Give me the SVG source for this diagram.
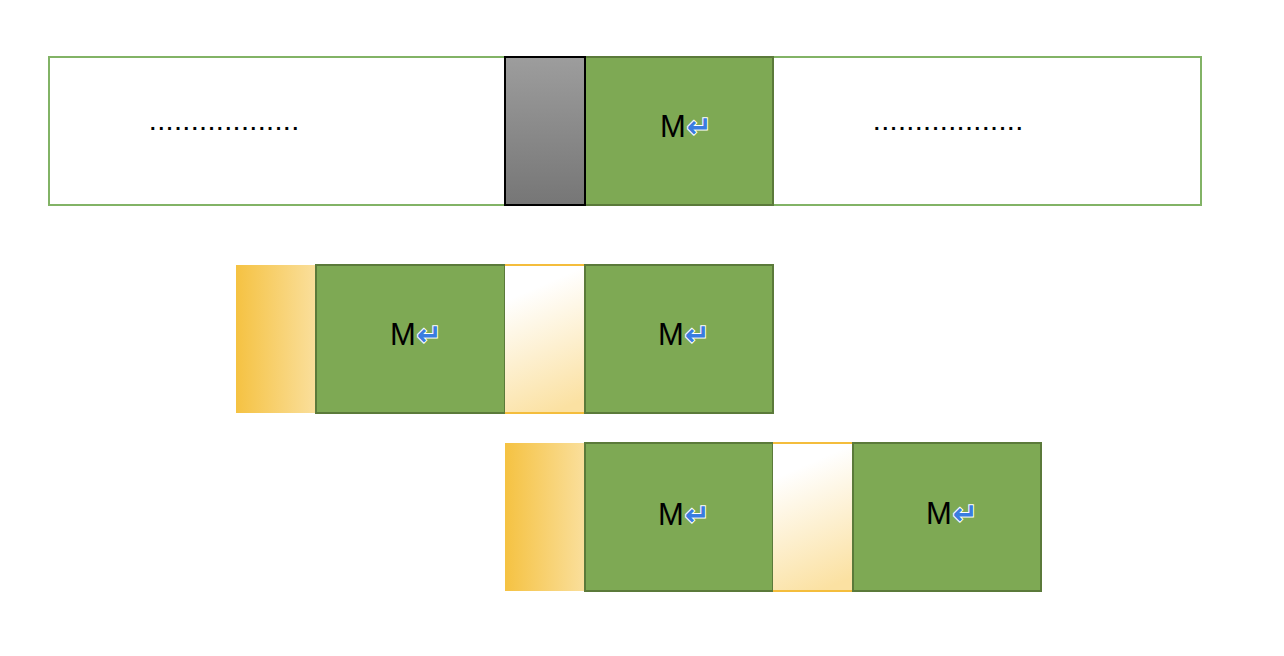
<svg xmlns="http://www.w3.org/2000/svg" width="1284" height="656" viewBox="0 0 1284 656">
<style>
.g{fill:#7ea954;stroke:#5b7a3a;stroke-width:2}
.o{stroke:#f4bd3c;stroke-width:2}
.t{font-family:"Liberation Sans",Arial,sans-serif;font-size:31px;fill:#000}
.r{font-family:"DejaVu Sans",sans-serif;font-size:30px;fill:#3a7ce0;stroke:#fff;stroke-width:2;paint-order:stroke;font-weight:bold}
.d{font-family:"Liberation Sans",Arial,sans-serif;font-size:20px;font-weight:bold;fill:#000}
</style>
<defs>
<linearGradient id="gray" x1="0" y1="0" x2="0" y2="1"><stop offset="0" stop-color="#9d9d9d"/><stop offset="1" stop-color="#767676"/></linearGradient>
<linearGradient id="or" x1="0" y1="0" x2="1" y2="0"><stop offset="0" stop-color="#f5c242"/><stop offset="1" stop-color="#fadf9c"/></linearGradient>
<linearGradient id="wo" x1="0.4" y1="0.15" x2="0.6" y2="1"><stop offset="0" stop-color="#ffffff"/><stop offset="1" stop-color="#fbe1a2"/></linearGradient>
</defs>
<g id="top">
<rect x="49" y="57" width="1152" height="148" fill="#fff" stroke="#82b366" stroke-width="2"/>
<text class="d" x="150" y="130" textLength="148" lengthAdjust="spacing">..................</text>
<text class="d" x="874" y="130" textLength="148" lengthAdjust="spacing">..................</text>
</g>
<g id="m1"><rect class="g" x="585" y="57" width="188" height="148"/><text x="660" y="137"><tspan class="t">M</tspan><tspan class="r" dx="1">↵</tspan></text></g>
<g id="gray-block"><rect x="505" y="57" width="80" height="148" fill="url(#gray)" stroke="#000" stroke-width="2"/></g>
<g id="o2"><rect x="236" y="265" width="80" height="148" fill="url(#or)" stroke="none"/></g>
<g id="m2"><rect class="g" x="316" y="265" width="189" height="148"/><text x="390" y="345"><tspan class="t">M</tspan><tspan class="r" dx="1">↵</tspan></text></g>
<g id="w2"><rect x="505" y="265" width="80" height="148" fill="url(#wo)" stroke="none"/><line class="o" x1="505" y1="265" x2="585" y2="265"/><line class="o" x1="505" y1="413" x2="585" y2="413"/></g>
<g id="m3"><rect class="g" x="585" y="265" width="188" height="148"/><text x="658" y="345"><tspan class="t">M</tspan><tspan class="r" dx="1">↵</tspan></text></g>
<g id="o3"><rect x="505" y="443" width="80" height="148" fill="url(#or)" stroke="none"/></g>
<g id="m4"><rect class="g" x="585" y="443" width="188" height="148"/><text x="658" y="525"><tspan class="t">M</tspan><tspan class="r" dx="1">↵</tspan></text></g>
<g id="w3"><rect x="773" y="443" width="80" height="148" fill="url(#wo)" stroke="none"/><line class="o" x1="773" y1="443" x2="853" y2="443"/><line class="o" x1="773" y1="591" x2="853" y2="591"/></g>
<g id="m5"><rect class="g" x="853" y="443" width="188" height="148"/><text x="926" y="524"><tspan class="t">M</tspan><tspan class="r" dx="1">↵</tspan></text></g>
<g id="connectors"></g>
</svg>
